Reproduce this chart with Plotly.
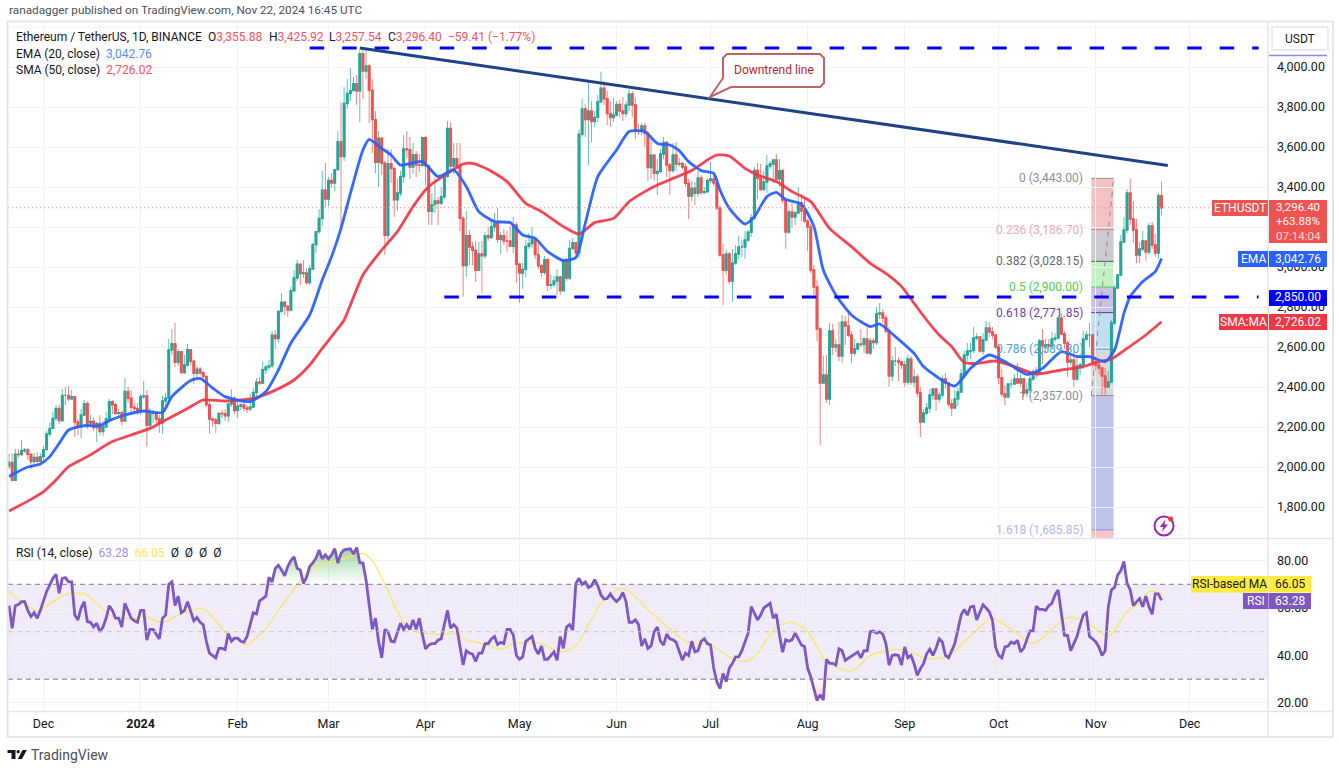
import numpy as np
import pandas as pd
import plotly.graph_objects as go

W, H = 1339, 771
START = pd.Timestamp("2023-11-20")
FIRST_OPEN = 2005

closes = [
 2023,1933,2064,2062,2081,2085,2063,2027,2048,2028,2052,
 2087,2165,2193,2243,2293,2232,2358,2358,2341,2352,2225,2202,2260,2316,2220,2228,2197,2218,2177,2201,2240,2326,2311,2268,2272,2230,2378,2344,2299,2292,2281,
 2352,2355,2209,2268,2268,2240,2221,2330,2344,2585,2617,2523,2576,2472,2510,2587,2529,2469,2489,2471,2453,2311,2240,2235,2218,2268,2266,2256,2315,2343,2282,
 2304,2310,2295,2290,2300,2373,2424,2420,2486,2500,2507,2659,2642,2778,2824,2803,2785,2881,2945,3014,2967,2970,2922,2990,3112,3177,3243,3384,3340,
 3433,3420,3487,3627,3552,3818,3868,3882,3917,3880,4066,3980,4005,3883,3737,3523,3644,3519,3159,3516,3492,3336,3370,3452,3590,3587,3500,3561,3510,3508,3647,
 3505,3278,3312,3330,3319,3351,3454,3693,3505,3542,3505,3243,3007,3157,3100,3083,2984,3065,3056,3156,3147,3201,3219,3139,3156,3130,3130,3103,3210,3014,
 2970,2988,3103,3117,3136,3062,3006,2974,3036,2909,2912,2930,2950,2881,3037,2945,3093,3122,3071,3664,3790,3737,3780,3727,3748,3826,3894,3841,3767,3747,3760,
 3813,3780,3767,3810,3865,3810,3680,3680,3705,3668,3497,3559,3468,3478,3565,3623,3510,3482,3560,3515,3518,3500,3418,3355,3394,3368,3445,3372,3376,3432,
 3440,3420,3295,3060,2983,3065,2930,3020,3065,3100,3100,3135,3174,3245,3483,3443,3388,3425,3505,3515,3535,3440,3482,3335,3175,3275,3250,3270,3320,3280,3230,
 3200,2985,2900,2690,2420,2460,2340,2680,2600,2610,2555,2725,2705,2660,2570,2590,2615,2612,2640,2570,2630,2622,2765,2770,2745,2680,2455,2530,2530,2525,2510,
 2425,2540,2425,2450,2370,2225,2270,2295,2360,2390,2340,2360,2440,2420,2315,2295,2340,2375,2465,2560,2580,2582,2645,2650,2580,2635,2695,2675,2660,2600,
 2447,2365,2350,2415,2415,2440,2420,2440,2370,2385,2440,2475,2470,2630,2605,2610,2605,2640,2645,2745,2665,2620,2525,2535,2440,2505,2510,2640,2660,2660,2518,
 2510,2495,2455,2400,2425,2720,2895,2960,3125,3185,3370,3240,3185,3060,3090,3130,3075,3205,3110,3070,3355.88,3296.40,
]
highs = [
 2065,2068,2090,2088,2134,2095,2095,2070,2070,2075,2070,
 2105,2180,2222,2275,2310,2310,2390,2400,2405,2385,2355,2240,2290,2335,2330,2260,2250,2225,2260,2230,2275,2340,2335,2320,2290,2280,2445,2400,2385,2320,2320,
 2365,2430,2385,2295,2285,2270,2260,2355,2370,2640,2690,2720,2590,2580,2560,2615,2590,2535,2505,2500,2480,2455,2325,2245,2245,2275,2285,2290,2320,2390,2355,
 2325,2320,2330,2310,2365,2395,2445,2450,2525,2510,2535,2680,2685,2785,2870,2830,2810,2900,2985,3035,3015,3035,2995,3010,3120,3180,3290,3480,3520,
 3450,3470,3490,3680,3825,3900,3940,3995,3950,3960,4085,4095,4085,4015,3940,3780,3680,3640,3530,3590,3590,3500,3440,3480,3660,3680,3650,3620,3580,3565,3650,
 3655,3510,3370,3445,3350,3400,3455,3730,3725,3620,3620,3620,3255,3280,3185,3125,3130,3125,3130,3175,3200,3240,3270,3295,3175,3190,3180,3205,3250,3225,
 3020,3020,3135,3170,3200,3135,3120,3015,3055,3045,2960,2955,2990,2955,3040,3045,3135,3145,3125,3690,3840,3815,3920,3830,3780,3860,3977,3930,3880,3830,3845,
 3830,3835,3850,3830,3888,3880,3845,3715,3720,3720,3680,3660,3565,3540,3590,3650,3630,3520,3620,3625,3545,3525,3520,3440,3430,3425,3480,3460,3400,3445,
 3525,3460,3430,3310,3115,3085,3075,3090,3110,3155,3135,3180,3185,3265,3500,3520,3515,3480,3560,3530,3540,3565,3540,3490,3340,3290,3320,3280,3400,3365,3350,
 3240,3215,3010,2935,2700,2557,2560,2720,2715,2640,2725,2760,2755,2780,2680,2640,2625,2690,2650,2700,2645,2645,2800,2820,2790,2760,2700,2555,2600,2550,2530,
 2530,2560,2555,2490,2465,2400,2290,2320,2390,2395,2395,2375,2460,2470,2420,2340,2385,2395,2490,2580,2620,2620,2700,2670,2655,2670,2730,2725,2700,2665,
 2610,2490,2410,2420,2440,2465,2520,2465,2445,2420,2460,2490,2500,2640,2690,2640,2640,2675,2670,2760,2770,2680,2630,2570,2580,2560,2520,2680,2680,2720,2665,
 2555,2520,2500,2495,2480,2735,2910,2965,3160,3250,3390,3443,3330,3240,3125,3180,3125,3220,3225,3165,3370,3425.92,
]
lows = [
 1990,1930,1932,2045,2055,2070,2035,1990,2010,2015,2025,
 2030,2085,2150,2190,2230,2215,2225,2310,2330,2335,2150,2160,2145,2255,2190,2200,2180,2125,2160,2155,2195,2230,2265,2260,2255,2205,2225,2320,2265,2270,2260,
 2260,2340,2100,2200,2220,2215,2170,2165,2300,2320,2560,2500,2505,2465,2465,2500,2510,2415,2440,2460,2440,2300,2165,2200,2170,2210,2245,2230,2225,2300,2265,
 2245,2285,2280,2270,2280,2295,2355,2410,2415,2465,2485,2495,2590,2620,2770,2760,2750,2780,2875,2930,2910,2945,2910,2910,2985,3070,3165,3205,3300,
 3305,3395,3380,3480,3200,3530,3790,3830,3885,3810,3725,3840,3940,3720,3570,3470,3400,3460,3060,3110,3420,3250,3280,3355,3420,3545,3440,3465,3450,3475,3500,
 3410,3210,3210,3270,3210,3310,3340,3445,3470,3465,3490,3180,2852,2950,3010,3010,2925,2985,2868,3040,3130,3140,3175,3120,3065,3110,3075,3100,3070,2920,
 2820,2890,2950,3090,3095,3040,2990,2950,2960,2880,2890,2900,2860,2860,2880,2930,2935,3085,3050,3045,3650,3650,3510,3625,3700,3725,3820,3810,3710,3700,3725,
 3755,3750,3730,3750,3780,3750,3640,3660,3660,3600,3430,3440,3430,3360,3470,3540,3450,3360,3470,3480,3500,3485,3400,3240,3330,3310,3350,3360,3365,3375,
 3420,3405,3285,3050,2810,2960,2915,2825,3010,3040,3050,3040,3125,3150,3235,3340,3380,3380,3370,3490,3420,3420,3400,3320,3090,3165,3195,3210,3275,3230,3220,
 3080,2970,2860,2630,2110,2420,2320,2310,2560,2575,2530,2520,2610,2650,2520,2555,2590,2600,2570,2565,2560,2590,2610,2740,2720,2670,2400,2430,2505,2430,2490,
 2400,2410,2410,2400,2350,2150,2225,2260,2270,2335,2280,2320,2345,2390,2300,2255,2290,2305,2370,2445,2530,2540,2570,2630,2570,2560,2630,2650,2640,2590,
 2415,2350,2310,2350,2395,2410,2415,2400,2350,2350,2370,2430,2440,2465,2515,2570,2590,2600,2625,2640,2660,2590,2450,2510,2400,2430,2460,2490,2630,2600,2500,
 2480,2465,2355,2355,2400,2420,2710,2890,2960,3120,3170,3210,3120,3020,3020,3080,3030,3060,3090,3050,3040,3257.54,
]
ema_days = [0,2,6,10,13,16,19,24,29,32,37,43,49,52,58,61,65,69,77,82,86,90,96,100,103,106,109,113,115,119,122,125,132,137,142,146,150,155,160,164,168,172,177,181,184,188,194,198,203,207,211,214,217,221,225,227,230,235,238,242,245,248,253,257,260,264,269,275,278,283,289,292,297,302,307,313,319,325,330,336,341,345,350,353,356,358,362,366,368]
ema_vals = [1952,1970,2000,2015,2052,2118,2185,2207,2207,2232,2260,2280,2273,2352,2432,2443,2395,2352,2327,2377,2485,2620,2760,2935,3052,3193,3368,3585,3638,3593,3560,3510,3527,3452,3485,3402,3277,3227,3222,3160,3143,3077,3032,3047,3218,3452,3585,3677,3677,3618,3610,3582,3527,3482,3468,3385,3293,3215,3252,3352,3373,3338,3315,3202,2985,2860,2760,2702,2715,2652,2568,2502,2443,2405,2493,2560,2518,2463,2493,2577,2552,2552,2527,2585,2768,2852,2927,2977,3042.76]
sma_days = [0,7,11,15,19,25,33,39,45,50,57,62,69,78,84,91,96,100,105,107,113,119,124,129,134,140,145,148,153,159,165,170,177,182,187,193,198,203,207,212,218,223,226,230,235,239,245,250,256,262,269,275,280,285,289,293,297,301,305,309,315,321,328,336,343,348,352,357,363,368]
sma_vals = [1780,1838,1877,1935,2002,2052,2127,2160,2193,2235,2293,2335,2330,2343,2377,2435,2510,2593,2693,2735,2960,3085,3177,3302,3402,3468,3515,3518,3488,3427,3318,3277,3202,3165,3222,3243,3327,3377,3410,3443,3482,3535,3560,3555,3493,3460,3427,3377,3327,3193,3102,3018,2968,2902,2818,2735,2660,2602,2522,2518,2530,2502,2465,2485,2502,2527,2540,2593,2660,2726.02]
rsi_vals = [
 61,51.5,61,61.5,62.7,62.7,59,56.4,58,55.7,
 59,63.4,67,69.7,72.5,74.2,66.2,72.5,72.8,71,
 71,57,55,60,62.7,54.3,54,52,53.6,50,
 52,55.7,61,59,55.7,55.7,52,62,59,55.7,
 54.6,54,59,59,46.5,51,51,49,47,55.7,
 57,70,71,61,65,58,59,62.7,58.4,54.6,
 56,54,53,46,41,40,39,43,43,42.5,
 49.3,46,47.3,47.3,46,45.6,48,53,58,57.5,
 63,64,65,73,71,76.7,78,76,73.6,77.5,
 80,81.6,76.7,76,70.4,73,77.5,79,81,84.5,
 80.7,82.4,80.7,82.4,85,79,83,84.5,84.8,85,
 82.7,85.5,79,79,71.8,61,51,55.7,46,39,
 51,50,46,45.7,50,53.6,51,53,51,55,
 51,55.7,48.7,42.8,44.4,45,45,46.5,47,53.6,
 59,51.5,53,51.5,44.4,36,42,41,40.6,37.5,
 41,41,45,45,47,48,44.6,45.5,45,51,
 51,48.7,40,38.4,39.4,46,47,48,43,40.6,
 44,38.4,38.4,40,41.5,38,48,43,52,53,
 50.7,70.4,72.5,70,71,68.6,69.4,72,69.4,65.5,
 63.8,64,66,64,62.7,64,66.6,62.7,54,54,
 55,53,44,47,43,44,50,52,46,44.4,
 49,47,46.6,45.6,41.5,38,41,40,46,41.5,
 42,46,47,45,44.4,34.7,29,26,32.4,29,
 34.7,36.7,39.4,39.4,42,46,49.4,60.6,58,55,
 57,60,61,62,55.7,57.4,48.7,41.4,46.6,46,
 46.6,49.4,47,44.4,43.8,34.7,31,25.6,21,23.5,
 21.2,38.4,36.7,36.7,36,42.8,42,38,39,40,
 40.6,41.5,39,42,42,50,50.3,49.4,50,49,
 45,36,40,40.3,40,36,43.6,39,40,36.5,
 31.6,34.4,36.5,40.7,42.6,40,43,47,45.7,40,
 39,42,45,51,57,59.4,57,60.5,60.8,55,
 58.4,61.4,60,58.4,55,43.6,40,39,43.6,44,
 45.7,45,46.4,41.5,43,47,50.4,50.4,60.8,59.4,
 59.4,59,61,62,65.5,67.6,59,48.5,48.5,42,
 45,48,52.8,57,58,48,47,45.7,43.6,40,
 42,60.5,67.6,68.7,74,75.8,79.6,70.4,67.6,61,
 62.6,64,60.5,65,60.5,57.4,66,66,63.28,
]
rsi_ma_days = [0,3,7,9,14,19,24,28,33,40,43,49,54,62,64,69,74,76,82,86,91,95,99,105,113,116,120,126,130,136,143,146,151,157,161,167,171,176,181,185,189,195,199,203,208,212,217,224,231,236,239,245,250,255,261,269,275,282,287,293,300,306,314,320,327,338,345,351,357,361,364,367,368]
rsi_ma_vals = [67,63.4,60,58.5,62.7,66,66,62,56.4,55.7,56.6,53.8,57,60,57.8,50,45.8,44.6,51.4,59,68,74.6,78,80,83,80,70,54,50,49,49,46.5,45,42.5,45,45.5,44.4,41.5,44,53,62,68.3,66,60.6,54.5,50,45.5,44.4,38.7,37.6,41,52,54,50,37.4,33.4,40,42.4,42,38.6,40,47,55.6,51,45,56,53.5,47.8,58.4,62,67,66.5,66.05]
y_tick_vals = [1800,2000,2200,2400,2600,2800,3000,3200,3400,3600,3800,4000]
rsi_tick_vals = [20,40,60,80]
month_dates = ["2023-12-01","2024-01-01","2024-02-01","2024-03-01","2024-04-01","2024-05-01","2024-06-01","2024-07-01","2024-08-01","2024-09-01","2024-10-01","2024-11-01","2024-12-01"]
month_labels = ["Dec","<b>2024</b>","Feb","Mar","Apr","May","Jun","Jul","Aug","Sep","Oct","Nov","Dec"]
fib_levels = [3443.00,3186.70,3028.15,2900.00,2771.85,2589.30,2357.00,1685.85]
fib_ratio = ["0","0.236","0.382","0.5","0.618","0.786","1","1.618"]
fib_text_col = ["#8a8d96","#f2aaaa","#63666f","#4fcf4f","#6a45a8","#4aa3d8","#8a8d96","#b0b5ee"]
fib_line_col = ["#8a8d96","#d97a7a","#55585f","#4fcf4f","#5e35a0","#3f9fd0","#8a8d96","#8088e0"]
fib_fill = ["#f3c2c2","#cbcbd0","#c3f1c3","#cbc1e1","#c2def1","#dadada","#c0c4ee","#f4c6c6"]

dates = [START + pd.Timedelta(days=i) for i in range(len(closes))]
opens = [FIRST_OPEN] + closes[:-1]
body_top = [max(a, b) for a, b in zip(opens, closes)]
body_bot = [min(a, b) for a, b in zip(opens, closes)]
def days(seq):
    return [START + pd.Timedelta(days=int(i)) for i in seq]

PX0, PX1 = 8, 1268
PY_TOP, PY_MAIN, PY_RSI = 22, 538, 711
def px(x): return x / W
def py(y): return 1 - y / H

UP, DOWN = "#26a69a", "#ef5350"
GRID = "#f0f2f7"
EDGE = "#e3e5ee"
FONT = "Roboto"

fig = go.Figure()
# thin, paler wicks
fig.add_trace(go.Candlestick(x=dates, open=opens, high=highs, low=lows, close=closes,
    increasing=dict(line=dict(color="rgba(38,166,154,.72)", width=1), fillcolor=UP),
    decreasing=dict(line=dict(color="rgba(239,83,80,.72)", width=1), fillcolor=DOWN),
    whiskerwidth=0, hoverinfo="skip", showlegend=False, xaxis="x", yaxis="y"))
# fuller bodies on top
fig.add_trace(go.Candlestick(x=dates, open=opens, high=body_top, low=body_bot, close=closes,
    increasing=dict(line=dict(color=UP, width=1.4), fillcolor=UP),
    decreasing=dict(line=dict(color=DOWN, width=1.4), fillcolor=DOWN),
    whiskerwidth=0, hoverinfo="skip", showlegend=False, xaxis="x", yaxis="y"))
fig.add_trace(go.Scatter(x=days(sma_days), y=sma_vals, mode="lines", line=dict(color="#f23645", width=2.8, shape="spline", smoothing=0.6), opacity=.92, hoverinfo="skip", showlegend=False))
fig.add_trace(go.Scatter(x=days(ema_days), y=ema_vals, mode="lines", line=dict(color="#2962ff", width=2.8, shape="spline", smoothing=0.6), opacity=.95, hoverinfo="skip", showlegend=False))

rsi = np.array(rsi_vals, dtype=float)
def zone(i0, i1, level, top_col, bot_col, over=True):
    idx = list(range(i0, i1 + 1))
    xs = [dates[i] for i in idx]
    ys = np.maximum(rsi[idx], level) if over else np.minimum(rsi[idx], level)
    fig.add_trace(go.Scatter(x=xs, y=[level] * len(xs), mode="lines", line=dict(width=0), xaxis="x2", yaxis="y2", hoverinfo="skip", showlegend=False))
    fig.add_trace(go.Scatter(x=xs, y=ys, mode="lines", line=dict(width=0), fill="tonexty",
        fillgradient=dict(type="vertical", colorscale=[[0, bot_col], [1, top_col]]), xaxis="x2", yaxis="y2", hoverinfo="skip", showlegend=False))
zone(83, 114, 70, "rgba(76,175,80,.55)", "rgba(76,175,80,0)")
zone(354, 357, 70, "rgba(76,175,80,.35)", "rgba(76,175,80,0)")
zone(255, 261, 30, "rgba(242,54,69,0)", "rgba(242,54,69,.25)", over=False)
fig.add_trace(go.Scatter(x=days(rsi_ma_days), y=rsi_ma_vals, mode="lines", line=dict(color="#fde65a", width=1.2, shape="spline", smoothing=0.7), xaxis="x2", yaxis="y2", hoverinfo="skip", showlegend=False))
fig.add_trace(go.Scatter(x=dates, y=rsi_vals, mode="lines", line=dict(color="#7e57c2", width=2.8), xaxis="x2", yaxis="y2", hoverinfo="skip", showlegend=False))

shapes, ann = [], []
def prect(x0, y0, x1, y1, fill, line=None, lw=0, layer="above"):
    shapes.append(dict(type="rect", xref="paper", yref="paper", x0=px(x0), x1=px(x1), y0=py(y0), y1=py(y1), fillcolor=fill, line=dict(color=line or fill, width=lw), layer=layer))
def pline(x0, y0, x1, y1, col, lw=1, dash="solid", layer="above"):
    shapes.append(dict(type="line", xref="paper", yref="paper", x0=px(x0), x1=px(x1), y0=py(y0), y1=py(y1), line=dict(color=col, width=lw, dash=dash), layer=layer))
def ppath(points, fill, line=None, lw=0, close=True):
    d = "M" + " L".join(f"{px(a):.5f},{py(b):.5f}" for a, b in points) + (" Z" if close else "")
    shapes.append(dict(type="path", xref="paper", yref="paper", path=d, fillcolor=fill, line=dict(color=line or fill, width=lw), layer="above"))
def text(x, y, s, col="#131722", size=12, anchor="left"):
    ann.append(dict(xref="paper", yref="paper", x=px(x), y=py(y), text=s, showarrow=False, xanchor=anchor, yanchor="middle",
                    font=dict(color=col, size=size, family=FONT), align=anchor, borderpad=0))

# fib bands
FX0, FX1 = "2024-10-30 14:00", "2024-11-06 17:00"
lev = fib_levels + [1645]
for i in range(len(fib_levels)):
    shapes.append(dict(type="rect", xref="x", yref="y", x0=FX0, x1=FX1, y0=lev[i], y1=lev[i + 1], fillcolor=fib_fill[i], line=dict(width=0), layer="below"))
    shapes.append(dict(type="line", xref="x", yref="y", x0=FX0, x1=FX1, y0=lev[i], y1=lev[i], line=dict(color=fib_line_col[i], width=1), layer="below"))
    ann.append(dict(xref="paper", yref="y", x=px(1084.5), y=lev[i], text=f"{fib_ratio[i]} ({lev[i]:,.2f})", showarrow=False, xanchor="right", yanchor="middle",
                    font=dict(color=fib_text_col[i], size=12, family=FONT)))
shapes.append(dict(type="line", xref="x", yref="y", x0=FX0, x1=FX1, y0=fib_levels[6], y1=fib_levels[0], line=dict(color="#8a8d96", width=1, dash="5px,5px"), layer="below"))

# levels
LV_END = "2024-12-23"
shapes.append(dict(type="line", xref="x", yref="y", x0="2024-02-24", x1=LV_END, y0=4095, y1=4095, line=dict(color="#0000ff", width=3, dash="14.5px,18px"), layer="above"))
shapes.append(dict(type="line", xref="x", yref="y", x0="2024-04-07", x1=LV_END, y0=2850, y1=2850, line=dict(color="#0000ff", width=3, dash="14.5px,18px"), layer="above"))
shapes.append(dict(type="line", xref="x", yref="y", x0="2024-03-11", x1="2024-11-24", y0=4095, y1=3508, line=dict(color="#1f4287", width=3), layer="above"))
shapes.append(dict(type="line", xref="paper", yref="y", x0=px(PX0), x1=px(PX1), y0=3296.4, y1=3296.4, line=dict(color="#f28b8b", width=1, dash="1px,3px"), layer="above"))
pline(PX0, 27, PX1, 27, GRID, 1, layer="below")

# RSI band
shapes.append(dict(type="rect", xref="paper", yref="y2", x0=px(PX0), x1=px(PX1), y0=30, y1=70, fillcolor="rgba(126,87,194,.12)", line=dict(width=0), layer="below"))
for v, c in [(70, "#787b86"), (50, "#c4c6cc"), (30, "#787b86")]:
    shapes.append(dict(type="line", xref="paper", yref="y2", x0=px(PX0), x1=px(PX1), y0=v, y1=v, line=dict(color=c, width=1, dash="5px,4px"), layer="above"))

# frame
pline(7.5, 21.5, 1333, 21.5, EDGE, 2)
pline(7.5, 737, 1333, 737, EDGE, 2)
pline(7.5, 21.5, 7.5, 737, EDGE, 2)
pline(1333, 21.5, 1333, 737, EDGE, 2)
pline(7.5, 538.5, 1333, 538.5, EDGE, 1.5)
pline(7.5, 711.5, 1333, 711.5, EDGE, 1.5)
pline(1268, 21.5, 1268, 737, EDGE, 1.5)

# top right
shapes.append(dict(type="rect", xref="paper", yref="paper", x0=px(1272), x1=px(1328), y0=py(27), y1=py(50), fillcolor="white", line=dict(color=EDGE, width=1.5), layer="above"))
text(1300, 39, "USDT", anchor="center")
pline(1269, 55.5, 1327, 55.5, "#8488f0", 1.5)

# price tags
prect(1212, 200, 1268, 216, "#ef5350")
prect(1269, 200, 1327, 243, "#ef5350")
text(1240, 208, "ETHUSDT", "white", anchor="center")
text(1298, 207.5, "3,296.40", "white", size=11.5, anchor="center")
text(1298, 221.5, "+63.88%", "white", size=11.5, anchor="center")
text(1298, 235.5, "07:14:04", "#ffd9d9", size=11.5, anchor="center")
prect(1238, 251, 1268, 267, "#2962ff")
prect(1269, 251, 1327, 267, "#2962ff")
text(1253, 259, "EMA", "white", anchor="center")
text(1298, 259, "3,042.76", "white", anchor="center")
prect(1269, 290, 1327, 306, "#0000ff")
text(1298, 297, "2,850.00", "white", anchor="center")
prect(1219, 314, 1268, 330, "#f23645")
prect(1269, 314, 1327, 330, "#f23645")
text(1243.5, 322, "SMA:MA", "white", anchor="center")
text(1298, 322, "2,726.02", "white", anchor="center")
prect(1191, 576, 1268, 592.5, "#ffeb3b")
prect(1268.5, 576, 1311, 592.5, "#ffeb3b")
text(1229.5, 584, "RSI-based MA", anchor="center")
text(1290, 584, "66.05", anchor="center")
prect(1243, 593, 1268, 609, "#7e57c2")
prect(1268.5, 593, 1311, 609, "#7e57c2")
text(1255.5, 601, "RSI", "white", anchor="center")
text(1290, 601, "63.28", "white", anchor="center")

# callout
ppath([(727, 54), (820, 54), (824, 58), (824, 83), (820, 87), (731, 87), (710, 97), (723, 78), (723, 58)], "white", "#bd6363", 2)
text(773.5, 70, "Downtrend line", "#b3262b", anchor="center")

# header + legends
RED = "#f7525f"
text(8, 10, "ranadagger published on TradingView.com, Nov 22, 2024 16:45 UTC", "#4a4f5c", size=11.75)
text(15, 37, "Ethereum / TetherUS, 1D, BINANCE")
for x, k, v in [(207, "O", "3,355.88"), (268, "H", "3,425.92"), (328, "L", "3,257.54"), (387, "C", "3,296.40")]:
    text(x, 37, f'{k}<span style="color:{RED}">{v}</span>')
text(447, 37, "−59.41 (−1.77%)", RED)
text(15, 54, f'EMA (20, close)  <span style="color:#5b8cff">3,042.76</span>')
text(15, 70, f'SMA (50, close)  <span style="color:{RED}">2,726.02</span>')
text(15, 553, 'RSI (14, close)  <span style="color:#a58fd8">63.28</span>  <span style="color:#fde65a">66.05</span>  Ø  Ø  Ø  Ø')

# logo + icon
ppath([(7.5, 750), (15.5, 750), (15.5, 759), (11.5, 759), (11.5, 753), (7.5, 753)], "#131722")
shapes.append(dict(type="circle", xref="paper", yref="paper", x0=px(16.5), x1=px(19.8), y0=py(750), y1=py(753.3), fillcolor="#131722", line=dict(width=0), layer="above"))
ppath([(22.5, 750), (26.8, 750), (22, 759), (17.8, 759)], "#131722")
text(30, 755, "TradingView", "#4a4f5c", size=14)
shapes.append(dict(type="circle", xref="paper", yref="paper", x0=px(1154.5), x1=px(1173.5), y0=py(516.5), y1=py(535.5), fillcolor="rgba(0,0,0,0)", line=dict(color="#9c27b0", width=2), layer="above"))
ppath([(1165.5, 519.5), (1159.8, 527), (1163.3, 527), (1161.8, 532), (1168, 524.5), (1164.5, 524.5)], "#9c27b0")
shapes.append(dict(type="circle", xref="paper", yref="paper", x0=px(1168.2), x1=px(1173.2), y0=py(516.5), y1=py(521.5), fillcolor="#f23645", line=dict(width=0), layer="above"))

xr = ["2023-11-19 16:00", "2024-12-26 00:00"]
fig.update_layout(
    width=W, height=H, margin=dict(l=0, r=0, t=0, b=0), paper_bgcolor="white", plot_bgcolor="white",
    font=dict(family=FONT, size=12, color="#131722"), showlegend=False, shapes=shapes, annotations=ann, hovermode=False,
    xaxis=dict(domain=[px(PX0), px(PX1)], range=xr, type="date", anchor="y", rangeslider=dict(visible=False), tickvals=month_dates, ticktext=[""] * 13,
               showgrid=True, gridcolor=GRID, gridwidth=1, showline=False, zeroline=False, ticks=""),
    yaxis=dict(domain=[py(PY_MAIN), py(PY_TOP)], range=[1645, 4225], side="right", anchor="x", tickvals=y_tick_vals, tickformat=",.2f", showgrid=True, gridcolor=GRID,
               zeroline=False, showline=False, ticks="", ticklabelstandoff=8, tickfont=dict(size=12.5, color="#131722")),
    xaxis2=dict(domain=[px(PX0), px(PX1)], range=xr, type="date", anchor="y2", matches="x", tickvals=month_dates, ticktext=month_labels, showgrid=True, gridcolor=GRID,
                showline=False, zeroline=False, ticks="", ticklabelstandoff=3, tickfont=dict(size=12.5, color="#131722")),
    yaxis2=dict(domain=[py(PY_RSI), py(PY_MAIN + 0.5)], range=[16.6, 89.3], side="right", anchor="x2", tickvals=rsi_tick_vals, tickformat=".2f", showgrid=True, gridcolor=GRID,
                zeroline=False, showline=False, ticks="", ticklabelstandoff=8, tickfont=dict(size=12.5, color="#131722")),
)
fig.write_html("out.html", config=dict(displayModeBar=False),
    post_script="document.body.style.margin='0';document.documentElement.style.overflow='hidden';")
